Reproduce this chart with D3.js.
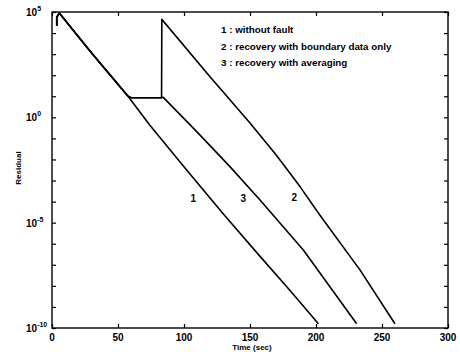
<!DOCTYPE html>
<html>
<head>
<meta charset="utf-8">
<script src="https://cdn.jsdelivr.net/npm/d3@7"></script>
<style>
  body { margin: 0; background: #fff; }
  svg text { font-family: "Liberation Sans", Arial, sans-serif; fill: #000; }
</style>
</head>
<body>
<div id="chart"></div>
<script>
// time (sec) and log10(residual)
const curve1T = [3.6, 3.6, 5.5, 30, 57.6, 74, 102, 130, 157.6, 180, 201.8];
const curve1L = [4.35, 4.75, 4.95, 3.05, 1.0, -0.36, -2.5, -4.6, -6.6, -8.2, -9.8];

const curve2T = [3.6, 3.6, 5.5, 30, 57.6, 60, 83, 83.2, 119.7, 150, 170, 188, 203, 233.3, 259.8];
const curve2L = [4.35, 4.75, 4.95, 3.05, 1.0, 0.93, 0.93, 4.65, 1.93, -0.27, -1.8, -3.3, -4.65, -7.24, -9.8];

const curve3T = [3.6, 3.6, 5.5, 30, 57.6, 60, 82.5, 84.3, 110, 134.8, 157.6, 190.4, 230.8];
const curve3L = [4.35, 4.75, 4.95, 3.05, 1.0, 0.93, 0.93, 0.95, -0.7, -2.34, -3.92, -6.3, -9.8];

const xTicks = [0, 50, 100, 150, 200, 250, 300];
const yLabelExps = [5, 0, -5, -10];
const curveNames = ['1', '3', '2'];
const curveNameT = [107, 145, 183.5];
const curveNameL = [-4.0, -4.0, -3.95];
const legendLines = [
  '1 : without fault',
  '2 : recovery with boundary data only',
  '3 : recovery with averaging'
];

const width = 460, height = 352;
const margin = { top: 12, right: 12, bottom: 24, left: 52 };

const svg = d3.select('#chart')
  .append('svg')
    .attr('width', width)
    .attr('height', height);

const x = d3.scaleLinear().domain([0, 300]).range([margin.left, width - margin.right]);
const y = d3.scaleLog().domain([1e-10, 1e5]).range([height - margin.bottom, margin.top]);

// plot frame
svg.append('rect')
  .attr('x', x(0)).attr('y', y(1e5))
  .attr('width', x(300) - x(0)).attr('height', y(1e-10) - y(1e5))
  .attr('fill', 'none').attr('stroke', '#000').attr('stroke-width', 1.4);

// decade ticks
const decades = d3.range(-10, 6).map(e => Math.pow(10, e));

const axisL = d3.axisLeft(y).tickValues(decades).tickSizeInner(-4).tickSizeOuter(0).tickFormat('');
const axisR = d3.axisRight(y).tickValues(decades).tickSizeInner(-4).tickSizeOuter(0).tickFormat('');
const axisB = d3.axisBottom(x).tickValues(xTicks).tickSizeInner(-4).tickSizeOuter(0).tickFormat('');
const axisT = d3.axisTop(x).tickValues(xTicks).tickSizeInner(-4).tickSizeOuter(0).tickFormat('');

[[axisL, `translate(${x(0)},0)`], [axisR, `translate(${x(300)},0)`],
 [axisB, `translate(0,${y(1e-10)})`], [axisT, `translate(0,${y(1e5)})`]].forEach(([ax, tr]) => {
  const g = svg.append('g').attr('transform', tr).call(ax);
  g.select('.domain').remove();
  g.selectAll('line').attr('stroke', '#000').attr('stroke-width', 1.2);
});

// x tick labels
svg.selectAll('text.xlab')
  .data(xTicks)
  .join('text')
    .attr('class', 'xlab')
    .attr('x', d => x(d))
    .attr('y', y(1e-10) + 13)
    .attr('text-anchor', 'middle')
    .style('font-size', '10px')
    .style('font-weight', 'bold')
    .text(d => d);

// y tick labels 10^n
const yl = svg.selectAll('text.ylab')
  .data(yLabelExps)
  .join('text')
    .attr('class', 'ylab')
    .attr('x', x(0) - 26)
    .attr('y', d => y(Math.pow(10, d)) + 4)
    .style('font-size', '10px')
    .style('font-weight', 'bold');
yl.append('tspan').text('10');
yl.append('tspan').attr('dy', -5).style('font-size', '7px').text(d => d);

// axis titles
svg.append('text')
  .attr('x', x(150) + 2)
  .attr('y', height - 2)
  .attr('text-anchor', 'middle')
  .style('font-size', '8px')
  .style('font-weight', 'bold')
  .text('Time (sec)');

svg.append('text')
  .attr('transform', 'translate(21,168) rotate(-90)')
  .attr('text-anchor', 'middle')
  .style('font-size', '8px')
  .style('font-weight', 'bold')
  .text('Residual');

// curves
const line = d3.line()
  .x(d => x(d[0]))
  .y(d => y(Math.pow(10, d[1])));

[[curve1T, curve1L], [curve2T, curve2L], [curve3T, curve3L]].forEach(([ts, ls]) => {
  svg.append('path')
    .datum(ts.map((t, i) => [t, ls[i]]))
    .attr('fill', 'none')
    .attr('stroke', '#000')
    .attr('stroke-width', 1.6)
    .attr('stroke-linejoin', 'round')
    .attr('d', line);
});

// curve numbers
svg.selectAll('text.cname')
  .data(curveNames)
  .join('text')
    .attr('class', 'cname')
    .attr('x', (d, i) => x(curveNameT[i]))
    .attr('y', (d, i) => y(Math.pow(10, curveNameL[i])))
    .attr('text-anchor', 'middle')
    .style('font-size', '10px')
    .style('font-weight', 'bold')
    .text(d => d);

// legend
svg.selectAll('text.leg')
  .data(legendLines)
  .join('text')
    .attr('class', 'leg')
    .attr('x', 221)
    .attr('y', (d, i) => 33 + i * 16.5)
    .style('font-size', '9.8px')
    .style('font-weight', 'bold')
    .text(d => d);
</script>
</body>
</html>
